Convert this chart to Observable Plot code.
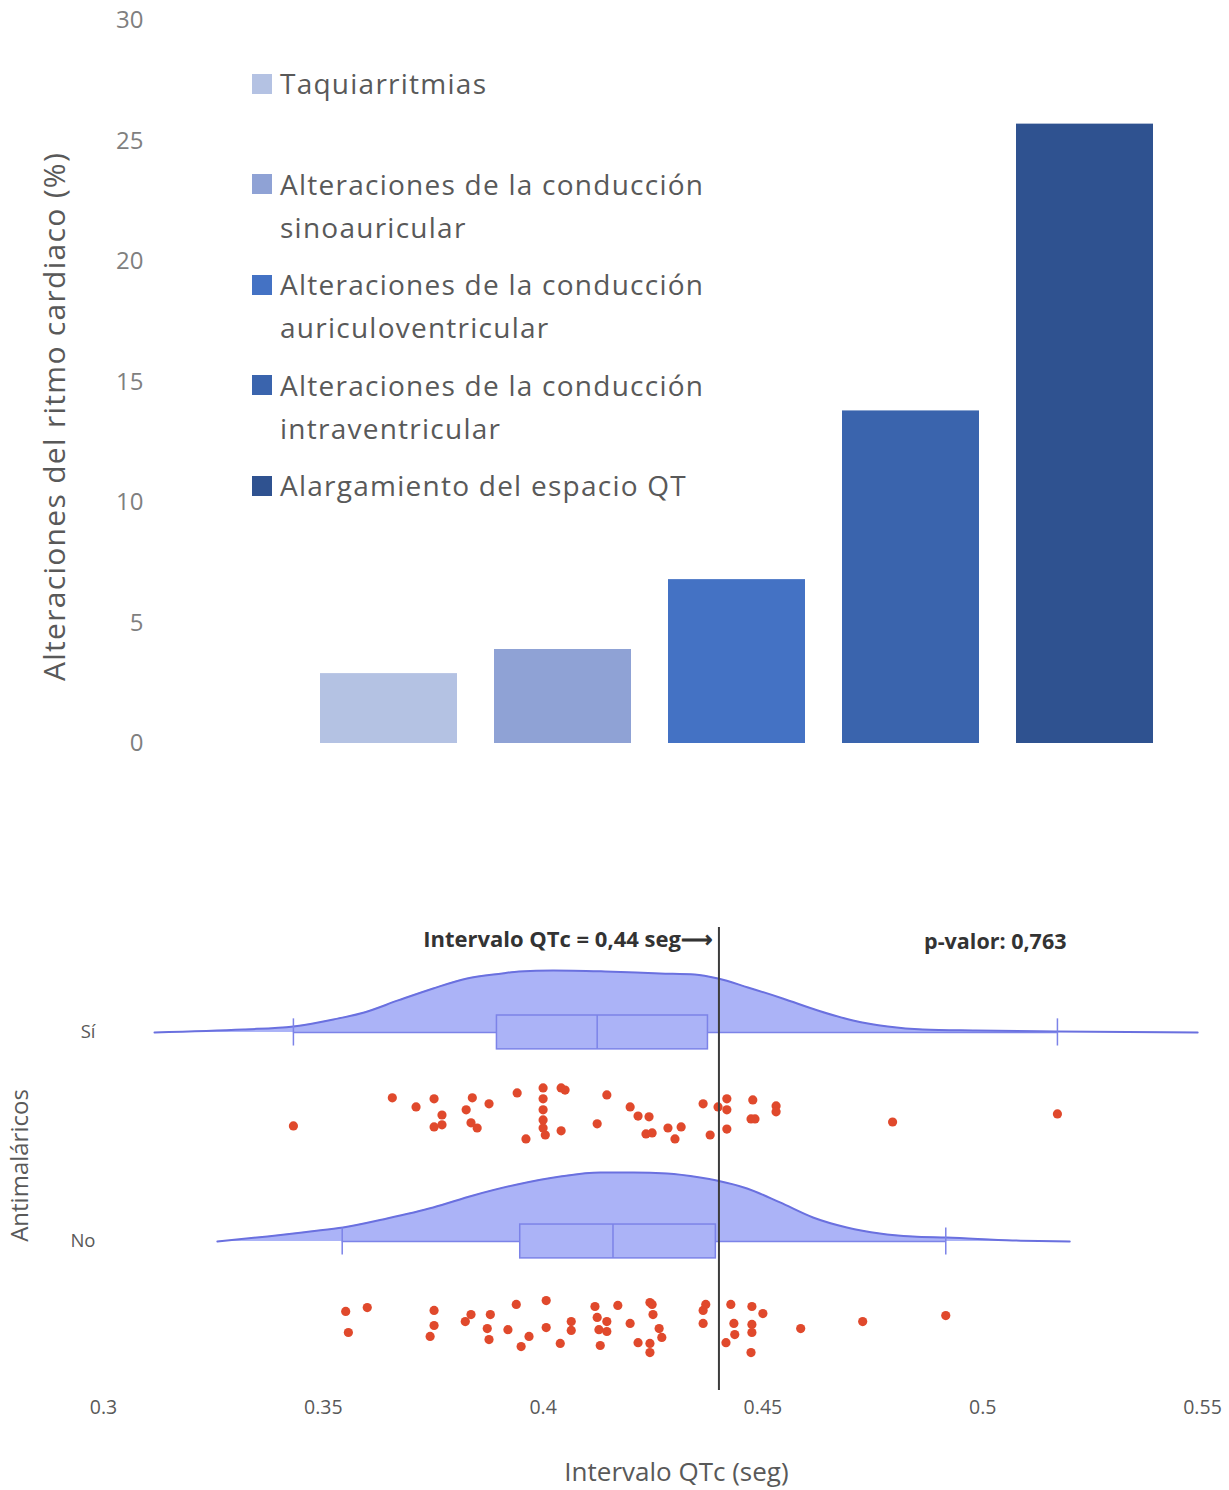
<!DOCTYPE html>
<html><head><meta charset="utf-8">
<script src="https://cdn.jsdelivr.net/npm/d3@7"></script>
<script src="https://cdn.jsdelivr.net/npm/@observablehq/plot@0.6"></script>
<style>
body{margin:0;background:#fff;font-family:"Open Sans",sans-serif;}
#top{position:relative;width:1229px;height:780px;}
#bottom{position:relative;width:1229px;height:710px;}
.legend{position:absolute;left:252px;top:62px;display:grid;grid-auto-rows:100.5px;}
.item{display:flex;align-items:flex-start;font-size:28px;letter-spacing:1.25px;line-height:43px;color:#595959;white-space:pre-line;}
.sw{width:20px;height:20px;margin:11.5px 8px 0 0;flex:none;}
#top svg g[aria-label="text"] text{letter-spacing:1.3px;}
</style></head><body>
<div id="top"></div><div id="bottom"></div>
<script>
// ---------- Top chart data ----------
const categories = [
  "Taquiarritmias",
  "Alteraciones de la conducción sinoauricular",
  "Alteraciones de la conducción auriculoventricular",
  "Alteraciones de la conducción intraventricular",
  "Alargamiento del espacio QT"
];
const percentages = [2.9, 3.9, 6.8, 13.8, 25.7];
const barColors = ["#b4c2e3", "#8fa2d5", "#4472c4", "#3a64ad", "#2f5290"];
const yTicksTop = [0, 5, 10, 15, 20, 25, 30];
const yTitleTop = "Alteraciones del ritmo cardiaco (%)";

// ---------- Bottom chart data ----------
const groups = ["Sí", "No"];
const xTicksBottom = [0.3, 0.35, 0.4, 0.45, 0.5, 0.55];
const threshold = [0.44];
const thresholdLabel = "Intervalo QTc = 0,44 seg⟶";
const pValueLabel = "p-valor: 0,763";
const xTitleBottom = "Intervalo QTc (seg)";
const yTitleBottom = "Antimaláricos";

// density curves (relative density)
const siDensX = [0.3116,0.3318,0.3432,0.3523,0.3593,0.3670,0.3750,0.3827,0.3907,0.3945,0.4023,0.4141,0.4266,0.4345,0.4398,0.4466,0.4545,0.4625,0.4705,0.4784,0.4864,0.4984,0.5170,0.5489];
const siDensH = [0,3,6,13,20,32,44,54,59,61,62,61,59,58,54,45,34,22,12,6,3,2,1,0];
const noDensX = [0.3259,0.3373,0.3470,0.3545,0.3645,0.3750,0.3841,0.3941,0.4039,0.4130,0.4205,0.4282,0.4357,0.4395,0.4464,0.4539,0.4614,0.4691,0.4766,0.4841,0.4918,0.5068,0.5198];
const noDensH = [0,5,10,14,23,34,46,57,65,69,69,68,64,61,53,39,24,14,8,5,4,1,0];

// box plot statistics (Sí, No)
const boxMin = [0.3432, 0.3543];
const boxQ1 = [0.3895, 0.3948];
const boxMedian = [0.4123, 0.4159];
const boxQ3 = [0.4375, 0.4393];
const boxMax = [0.5170, 0.4916];

// individual observations and their vertical jitter (-1..1)
const siValues = [0.3432,0.3657,0.3711,0.3752,0.3752,0.3770,0.3770,0.3825,0.3836,0.3839,0.3850,0.3877,0.3941,0.3961,0.4000,0.4000,0.4000,0.4000,0.4000,0.4005,0.4041,0.4050,0.4041,0.4123,0.4145,0.4198,0.4216,0.4241,0.4234,0.4248,0.4284,0.4300,0.4314,0.4364,0.4380,0.4398,0.4418,0.4418,0.4418,0.4477,0.4473,0.4482,0.4530,0.4530,0.4795,0.5170];
const siJitter = [0.50,-0.58,-0.23,-0.54,0.54,0.08,0.46,-0.12,0.38,-0.58,0.58,-0.35,-0.77,1.00,-0.96,-0.54,-0.12,0.27,0.58,0.85,-0.96,-0.88,0.69,0.42,-0.69,-0.23,0.12,0.15,0.81,0.77,0.58,1.00,0.54,-0.35,0.85,-0.23,-0.54,-0.12,0.62,-0.50,0.23,0.23,-0.27,-0.04,0.35,0.04];
const noValues = [0.3551,0.3600,0.3557,0.3752,0.3752,0.3743,0.3836,0.3823,0.3880,0.3873,0.3877,0.3920,0.3939,0.3950,0.3968,0.4007,0.4007,0.4039,0.4064,0.4064,0.4118,0.4123,0.4145,0.4127,0.4145,0.4130,0.4170,0.4198,0.4216,0.4243,0.4248,0.4250,0.4264,0.4270,0.4243,0.4243,0.4364,0.4370,0.4364,0.4427,0.4434,0.4436,0.4416,0.4475,0.4500,0.4475,0.4475,0.4473,0.4586,0.4727,0.4916];
const noJitter = [-0.58,-0.73,0.23,-0.62,-0.04,0.38,-0.46,-0.19,-0.46,0.08,0.50,0.12,-0.85,0.77,0.38,-1.00,0.04,0.65,-0.19,0.15,-0.77,-0.35,-0.19,0.12,0.19,0.73,-0.81,-0.12,0.62,-0.92,-0.85,-0.46,0.08,0.42,0.65,1.00,-0.62,-0.85,-0.12,-0.85,-0.12,0.31,0.62,-0.77,-0.50,-0.08,0.23,1.00,0.08,-0.19,-0.42];

// ---------- Top chart ----------
const barData = categories.map((c, i) => ({category: c, value: percentages[i]}));
const topPlot = Plot.plot({
  width: 1229, height: 770,
  marginTop: 20, marginBottom: 27, marginLeft: 301, marginRight: 56,
  style: {fontFamily: '"Open Sans", sans-serif', background: "#fff", color: "#7f7f7f"},
  x: {domain: categories, paddingInner: 0.21, paddingOuter: 0.105, axis: null},
  y: {domain: [0, 30]},
  color: {domain: categories, range: barColors},
  marks: [
    Plot.barY(barData, {x: "category", y: "value", fill: "category"}),
    Plot.axisY({ticks: yTicksTop, tickSize: 0, tickPadding: 158, fontSize: 24, label: null}),
    Plot.text([yTitleTop], {text: d => d, frameAnchor: "left", textAnchor: "middle", rotate: -90, dx: -246, dy: 34.5, fontSize: 30, fill: "#595959"})
  ]
});
const topDiv = document.getElementById("top");
topDiv.appendChild(topPlot);
const legend = document.createElement("div");
legend.className = "legend";
categories.forEach((c, i) => {
  const item = document.createElement("div");
  item.className = "item";
  const sw = document.createElement("div");
  sw.className = "sw";
  sw.style.background = barColors[i];
  const label = document.createElement("div");
  label.textContent = c.replace("conducción ", "conducción\n");
  item.appendChild(sw);
  item.appendChild(label);
  legend.appendChild(item);
});
topDiv.appendChild(legend);

// ---------- Bottom chart ----------
const groupPos = {"Sí": 1, "No": 0};
const dotOffset = {"Sí": 0.385, "No": 0.407};
const densScale = 1 / 209;
const jitterScale = 26 / 209;
const boxHalf = 0.081, capHalf = 0.065;

const densRows = [
  ...siDensX.map((x, i) => ({group: "Sí", x, d: siDensH[i]})),
  ...noDensX.map((x, i) => ({group: "No", x, d: noDensH[i]}))
].map(r => ({...r, base: groupPos[r.group], top: groupPos[r.group] + r.d * densScale}));

const boxRows = groups.map((g, i) => ({
  group: g, pos: groupPos[g],
  min: boxMin[i], q1: boxQ1[i], median: boxMedian[i], q3: boxQ3[i], max: boxMax[i]
}));

const dotRows = [
  ...siValues.map((v, i) => ({group: "Sí", v, j: siJitter[i]})),
  ...noValues.map((v, i) => ({group: "No", v, j: noJitter[i]}))
].map(r => ({...r, y: groupPos[r.group] - dotOffset[r.group] - r.j * jitterScale}));

const areaFill = "#abb3f7", curveStroke = "#6a70df", boxStroke = "#7c83e8";

const bottomPlot = Plot.plot({
  width: 1229, height: 710,
  marginTop: 147, marginBottom: 100, marginLeft: 103, marginRight: 27,
  style: {fontFamily: '"Open Sans", sans-serif', background: "#fff", color: "#595959"},
  x: {domain: [0.3, 0.55]},
  y: {domain: [-0.713, 1.502]},
  marks: [
    Plot.areaY(densRows, {x: "x", y1: "base", y2: "top", z: "group", fill: areaFill, curve: "monotone-x"}),
    Plot.lineY(densRows, {x: "x", y: "top", z: "group", stroke: curveStroke, strokeWidth: 2, curve: "monotone-x"}),
    Plot.ruleY(boxRows, {y: "pos", x1: "min", x2: "q1", stroke: boxStroke, strokeWidth: 1.5}),
    Plot.ruleY(boxRows, {y: "pos", x1: "q3", x2: "max", stroke: boxStroke, strokeWidth: 1.5}),
    Plot.ruleX(boxRows, {x: "min", y1: d => d.pos - capHalf, y2: d => d.pos + capHalf, stroke: boxStroke, strokeWidth: 1.5}),
    Plot.ruleX(boxRows, {x: "max", y1: d => d.pos - capHalf, y2: d => d.pos + capHalf, stroke: boxStroke, strokeWidth: 1.5}),
    Plot.rect(boxRows, {x1: "q1", x2: "q3", y1: d => d.pos - boxHalf, y2: d => d.pos + boxHalf, fill: areaFill, stroke: boxStroke, strokeWidth: 1.5}),
    Plot.ruleX(boxRows, {x: "median", y1: d => d.pos - boxHalf, y2: d => d.pos + boxHalf, stroke: boxStroke, strokeWidth: 1.5}),
    Plot.dot(dotRows, {x: "v", y: "y", r: 4.6, fill: "#e0492c", stroke: "none"}),
    Plot.ruleX(threshold, {stroke: "#3c3c3c", strokeWidth: 2}),
    Plot.text(threshold, {x: d => d, text: () => thresholdLabel, frameAnchor: "top", dy: 4, dx: -6, textAnchor: "end",
      fontSize: 22, fontWeight: "bold", fill: "#333", fontFamily: '"Liberation Sans Narrow", "Open Sans", sans-serif'}),
    Plot.text([pValueLabel], {text: d => d, frameAnchor: "top-right", dx: -136, dy: 6, textAnchor: "end",
      fontSize: 21.5, fontWeight: "bold", fill: "#333", fontFamily: '"Liberation Sans Narrow", "Open Sans", sans-serif'}),
    Plot.axisX({ticks: xTicksBottom, tickFormat: d => String(d), tickSize: 0, tickPadding: 10, fontSize: 19.5, label: null}),
    Plot.axisY({ticks: [0, 1], tickFormat: d => (d === 1 ? groups[0] : groups[1]), tickSize: 0, tickPadding: 8, fontSize: 18.5, label: null}),
    Plot.text([xTitleBottom], {text: d => d, frameAnchor: "bottom", dx: 23.5, dy: 90, fontSize: 26, fill: "#595959"}),
    Plot.text([yTitleBottom], {text: d => d, frameAnchor: "left", textAnchor: "middle", rotate: -90, dx: -83, dy: 6.5, fontSize: 24, fill: "#595959"})
  ]
});
document.getElementById("bottom").appendChild(bottomPlot);
</script></body></html>
